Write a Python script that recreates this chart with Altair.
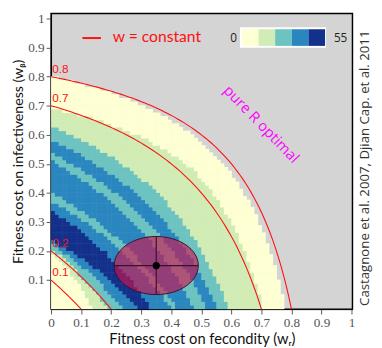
import altair as alt
import numpy as np
import pandas as pd

# ---------------- data ----------------
class_colors = ["#ffffd4", "#d1ecb4", "#6cc3c0", "#2a86bf", "#13308b"]
legend_labels = ["0", "55"]
# band classes met going outward from the origin
band_sequence = [0, 1, 2, 3, 4, 3, 2, 3, 2, 3, 2, 1, 0]
# outer edge of each band (as w = 1-(1-wr)(1-wb)) read along the wr axis, the diagonal and the wb axis
edges_on_wr_axis = [0.14, 0.19, 0.24, 0.29, 0.335, 0.40, 0.42, 0.475, 0.52, 0.555, 0.59, 0.705, 0.78]
edges_on_diagonal = [0.17, 0.20, 0.235, 0.265, 0.34, 0.385, 0.41, 0.49, 0.525, 0.565, 0.61, 0.725, 0.785]
edges_on_wb_axis = [0.20, 0.21, 0.225, 0.235, 0.34, 0.37, 0.40, 0.51, 0.535, 0.58, 0.63, 0.69, 0.80]
w_levels = [0.1, 0.2, 0.7, 0.8]
ellipse_center = [0.35, 0.15]
ellipse_half = [0.14, 0.10]
tick_values = [0, 0.1, 0.2, 0.3, 0.4, 0.5, 0.6, 0.7, 0.8, 0.9, 1.0]

W, H = 308, 302
XMAX, YMAX = 1.003, 1.017
step = 0.0125
pad = 0.0016  # small overlap so neighbouring cells leave no seams

# ---------------- tables ----------------
edge_sets = np.array([edges_on_wr_axis, edges_on_diagonal, edges_on_wb_axis])
centers = np.arange(step / 2, 1, step)
rows = []
for xc in centers:
    for yc in centers:
        w = 1 - (1 - xc) * (1 - yc)
        t = yc / (xc + yc)
        b = np.array([np.interp(t, [0, 0.5, 1], edge_sets[:, j]) for j in range(edge_sets.shape[1])])
        k = int((w > b).sum())
        if k >= len(band_sequence):
            continue
        rows.append(dict(x0=xc - step / 2, x1=xc + step / 2 + pad,
                         y0=yc - step / 2, y1=yc + step / 2 + pad, cls=band_sequence[k]))
heat_df = pd.DataFrame(rows)

curve_rows = []
for lv in w_levels:
    for xv in np.linspace(0, lv, 90):
        curve_rows.append(dict(level=lv, wr=xv, wb=1 - (1 - lv) / (1 - xv)))
curve_df = pd.DataFrame(curve_rows)
label_df = pd.DataFrame(dict(level=w_levels, wr=[0.004] * len(w_levels),
                             txt=[f"{v:g}" for v in w_levels]))

ell_df = pd.DataFrame(dict(cx=[ellipse_center[0]], cy=[ellipse_center[1]],
                           xa=[ellipse_center[0] - ellipse_half[0]], xb=[ellipse_center[0] + ellipse_half[0]],
                           ya=[ellipse_center[1] - ellipse_half[1]], yb=[ellipse_center[1] + ellipse_half[1]]))
rx_px = ellipse_half[0] * W / XMAX
ry_px = ellipse_half[1] * H / YMAX
ratio = ry_px / rx_px
ell_path = f"M -1 0 A 1 {ratio:.4f} 0 1 0 1 0 A 1 {ratio:.4f} 0 1 0 -1 0 Z"
ell_size = (2 * rx_px) ** 2

one = pd.DataFrame(dict(a=[0]))

xs = alt.Scale(domain=[0, XMAX], nice=False, zero=False)
ys = alt.Scale(domain=[0, YMAX], nice=False, zero=False)
cscale = alt.Scale(domain=list(range(len(class_colors))), range=class_colors)

axis_style = dict(grid=False, labelFont="Liberation Serif", labelFontSize=13.5, labelColor="#555",
                  tickColor="#555", tickSize=5, labelPadding=2, domainColor="black",
                  titleFont="Lato", titleFontWeight="normal", titleColor="#111",
                  labelOverlap=False, labelFlush=False, format=".1~f")
x_axis = alt.Axis(values=tick_values, title="Fitness cost on fecondity (wᵣ)", titlePadding=3,
                  titleFontSize=15, **axis_style)
y_axis = alt.Axis(values=tick_values[1:], title="Fitness cost on infectiveness (wᵦ)", titlePadding=2,
                  titleFontSize=14.5, **axis_style)


def X(field):
    return alt.X(field, type="quantitative", scale=xs, axis=x_axis)


def Y(field):
    return alt.Y(field, type="quantitative", scale=ys, axis=y_axis)


heat = alt.Chart(heat_df).mark_rect().encode(
    x=X("x0"), x2="x1:Q", y=Y("y0"), y2="y1:Q",
    color=alt.Color("cls:O", scale=cscale, legend=None),
)

curves = alt.Chart(curve_df).mark_line(color="#ff1010", strokeWidth=1.1).encode(
    x=X("wr"), y=Y("wb"), detail="level:N", order="wr:Q")

clabels = alt.Chart(label_df).mark_text(color="#ff1010", align="left", baseline="bottom",
                                        font="Liberation Sans", fontSize=12, dy=-1).encode(
    x=X("wr"), y=Y("level"), text="txt:N")

ellipse = alt.Chart(ell_df).mark_point(shape=ell_path, size=ell_size, filled=True,
                                       fill="#d4124c", fillOpacity=0.62, stroke="#3a1226",
                                       strokeWidth=1, strokeOpacity=1).encode(
    x=X("cx"), y=Y("cy"))
hline = alt.Chart(ell_df).mark_rule(color="#3a1226", strokeWidth=1.2).encode(
    x=X("xa"), x2="xb:Q", y=Y("cy"))
vline = alt.Chart(ell_df).mark_rule(color="#3a1226", strokeWidth=1.2).encode(
    x=X("cx"), y=Y("ya"), y2="yb:Q")
dot = alt.Chart(ell_df).mark_point(filled=True, color="black", size=55, opacity=1).encode(
    x=X("cx"), y=Y("cy"))

# legend for w curves
leg_line = alt.Chart(one).mark_rule(color="#ff1010", strokeWidth=2).encode(
    x=alt.value(32), x2=alt.value(51), y=alt.value(25))
leg_text = alt.Chart(one).mark_text(color="#ff1010", align="left", baseline="middle",
                                    font="Lato", fontSize=16).encode(
    x=alt.value(63), y=alt.value(24), text=alt.value("w = constant"))

# colour key
box = alt.Chart(one).mark_rect(color="white").encode(
    x=alt.value(193), x2=alt.value(281), y=alt.value(14), y2=alt.value(35))
sw_rows = [dict(cls=c, px0=195 + 17 * c, px1=195 + 17 * (c + 1)) for c in range(len(class_colors))]
swatches = alt.Chart(pd.DataFrame(sw_rows)).mark_rect().encode(
    x=alt.X("px0:Q", scale=None, axis=None), x2="px1:Q",
    y=alt.value(16), y2=alt.value(33),
    color=alt.Color("cls:O", scale=cscale, legend=None),
)
key0 = alt.Chart(one).mark_text(align="right", baseline="middle", font="Open Sans",
                                fontSize=12, color="#222").encode(
    x=alt.value(190), y=alt.value(25), text=alt.value(legend_labels[0]))
key1 = alt.Chart(one).mark_text(align="left", baseline="middle", font="Open Sans",
                                fontSize=12, color="#222").encode(
    x=alt.value(289), y=alt.value(25), text=alt.value(legend_labels[1]))

pure = alt.Chart(one).mark_text(color="#ff00ff", font="Open Sans", fontSize=15, angle=46,
                                align="center", baseline="middle").encode(
    x=alt.value(215), y=alt.value(113), text=alt.value("pure R optimal"))

side = alt.Chart(one).mark_text(color="#333", font="Open Sans", fontSize=13.5, angle=270,
                                align="center", baseline="middle").encode(
    x=alt.value(321), y=alt.value(158),
    text=alt.value("Castagnone et al. 2007, Djian Cap. et al. 2011"))

chart = alt.layer(
    heat, curves, clabels, ellipse, hline, vline, dot,
    leg_line, leg_text, box, swatches, key0, key1, pure, side
).properties(
    width=W, height=H,
    autosize=alt.AutoSizeParams(type="none"),
    padding={"left": 44, "top": 2, "right": 22, "bottom": 36},
).configure(
    background="white"
).configure_axis(
    grid=False, labelFont="Liberation Serif", labelFontSize=13.5, labelColor="#555",
    tickColor="#555", tickSize=5, labelPadding=2, domainColor="black",
    titleFont="Lato", titleFontWeight="normal", titleColor="#111",
    labelOverlap=False, labelFlush=False
).configure_view(
    fill="#d4d4d4", stroke="black", strokeWidth=1.5
)

chart.save("out.html", embed_options={"renderer": "svg", "actions": False})
